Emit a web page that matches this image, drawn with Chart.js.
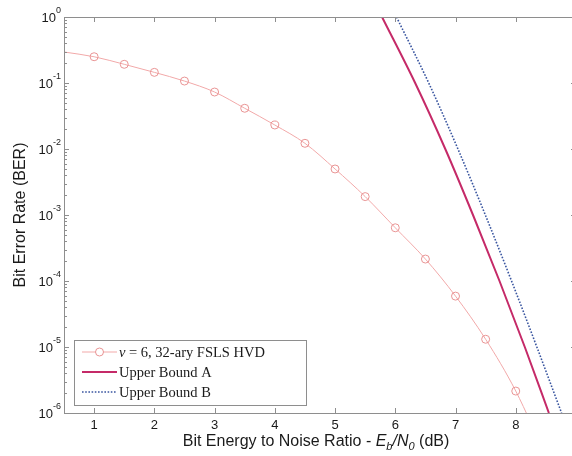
<!DOCTYPE html>
<html>
<head>
<meta charset="utf-8">
<script src="https://cdn.jsdelivr.net/npm/chart.js@4/dist/chart.umd.min.js"></script>
<style>
  html, body { margin: 0; padding: 0; background: #fff; overflow: hidden; }
  #wrap { width: 580px; height: 456px; }
</style>
</head>
<body>
<div id="wrap"><canvas id="c" width="580" height="456"></canvas></div>
<script>
// Eb/N0 (dB) and bit error rate of the simulated v = 6, 32-ary FSLS HVD receiver
const hvdEbN0 = [0.5, 1, 1.5, 2, 2.5, 3, 3.5, 4, 4.5, 5, 5.5, 6, 6.5, 7, 7.5, 8, 8.5];
const hvdBer  = [0.295, 0.25, 0.192, 0.145, 0.107, 0.073, 0.0414, 0.0231, 0.0122,
                 0.00498, 0.0019, 6.4e-4, 2.15e-4, 5.9e-5, 1.31e-5, 2.15e-6, 2.2e-7];

// Analytical upper bounds, one point per decade of BER
const boundAEbN0 = [5.78, 6.33, 6.83, 7.29, 7.73, 8.15, 8.55];
const boundABer  = [1, 1e-1, 1e-2, 1e-3, 1e-4, 1e-5, 1e-6];
const boundBEbN0 = [6.02, 6.555, 7.04, 7.495, 7.93, 8.35, 8.76];
const boundBBer  = [1, 1e-1, 1e-2, 1e-3, 1e-4, 1e-5, 1e-6];

// Axis ticks
const xTicks = [1, 2, 3, 4, 5, 6, 7, 8, 9];
const yExponents = [0, -1, -2, -3, -4, -5, -6];

const legendLabels = ['= 6, 32-ary FSLS HVD', 'Upper Bound A', 'Upper Bound B'];

const COL_HVD = '#f2a9a9';
const COL_HVD_MARK = '#e99494';
const COL_A = '#c52a68';
const COL_B = '#3a56a0';
const COL_AXIS = '#8e8e8e';
const COL_TEXT = '#1a1a1a';

const toPts = (xs, ys) => xs.map((x, i) => ({ x: x, y: ys[i] }));

const hvdRadius = hvdEbN0.map((x) => (x < 1 || x > 8 ? 0 : 4));

function runs(ctx, parts, x, y) {
  // draw a sequence of styled text runs starting at x
  let cx = x;
  for (const p of parts) {
    ctx.font = p.font;
    ctx.fillText(p.t, cx, y + (p.dy || 0));
    cx += ctx.measureText(p.t).width;
  }
}
function runsWidth(ctx, parts) {
  let w = 0;
  for (const p of parts) { ctx.font = p.font; w += ctx.measureText(p.t).width; }
  return w;
}

const framePlugin = {
  id: 'frame',
  afterDatasetsDraw(chart) {
    const ctx = chart.ctx;
    const a = chart.chartArea;
    const xs = chart.scales.x;
    const ys = chart.scales.y;
    ctx.save();

    // box
    ctx.strokeStyle = COL_AXIS;
    ctx.lineWidth = 1;
    ctx.strokeRect(Math.round(a.left) + 0.5, Math.round(a.top) + 0.5,
                   Math.round(a.right - a.left), Math.round(a.bottom - a.top));

    // x ticks (inward, bottom and top)
    ctx.beginPath();
    for (const v of xTicks) {
      const px = Math.round(xs.getPixelForValue(v)) + 0.5;
      ctx.moveTo(px, a.bottom); ctx.lineTo(px, a.bottom - 5);
      ctx.moveTo(px, a.top); ctx.lineTo(px, a.top + 5);
    }
    // y ticks, major and minor (inward, left and right)
    for (const e of yExponents) {
      const py = Math.round(ys.getPixelForValue(Math.pow(10, e))) + 0.5;
      ctx.moveTo(a.left, py); ctx.lineTo(a.left + 5, py);
      ctx.moveTo(a.right, py); ctx.lineTo(a.right - 5, py);
      if (e > -6) {
        for (let m = 2; m <= 9; m++) {
          const pm = Math.round(ys.getPixelForValue(m * Math.pow(10, e - 1))) + 0.5;
          ctx.moveTo(a.left, pm); ctx.lineTo(a.left + 3, pm);
          ctx.moveTo(a.right, pm); ctx.lineTo(a.right - 3, pm);
        }
      }
    }
    ctx.stroke();

    // x tick labels
    ctx.fillStyle = COL_TEXT;
    ctx.font = '13px "Liberation Sans", Arial, sans-serif';
    ctx.textAlign = 'center';
    ctx.textBaseline = 'middle';
    for (const v of xTicks) {
      const px = xs.getPixelForValue(v);
      if (px < a.right - 2) ctx.fillText(String(v), px, 425);
    }

    // y tick labels 10^e
    ctx.textAlign = 'right';
    for (const e of yExponents) {
      const py = ys.getPixelForValue(Math.pow(10, e));
      ctx.font = '9px "Liberation Sans", Arial, sans-serif';
      const ex = String(e);
      const ew = ctx.measureText(ex).width;
      ctx.fillText(ex, 61, py - 6);
      ctx.font = '13px "Liberation Sans", Arial, sans-serif';
      ctx.fillText('10', 61 - ew, py + 1);
    }

    // y axis title
    ctx.save();
    ctx.translate(21, (a.top + a.bottom) / 2);
    ctx.rotate(-Math.PI / 2);
    ctx.textAlign = 'center';
    ctx.font = '16px "Liberation Sans", Arial, sans-serif';
    ctx.fillText('Bit Error Rate (BER)', 0, 0);
    ctx.restore();

    // x axis title with subscripts
    const base = '16px "Liberation Sans", Arial, sans-serif';
    const ital = 'italic 16px "Liberation Sans", Arial, sans-serif';
    const sub = 'italic 11px "Liberation Sans", Arial, sans-serif';
    const title = [
      { t: 'Bit Energy to Noise Ratio - ', font: base },
      { t: 'E', font: ital },
      { t: 'b', font: sub, dy: 5 },
      { t: '/N', font: ital },
      { t: '0', font: sub, dy: 5 },
      { t: ' (dB)', font: base }
    ];
    ctx.textAlign = 'left';
    const tw = runsWidth(ctx, title);
    runs(ctx, title, 316 - tw / 2, 442);

    // legend
    const lx = 74.5, ly = 340.5, lw = 232, lh = 65;
    ctx.fillStyle = '#fff';
    ctx.fillRect(lx, ly, lw, lh);
    ctx.strokeStyle = COL_AXIS;
    ctx.lineWidth = 1;
    ctx.strokeRect(lx, ly, lw, lh);
    const rows = [352, 372, 392];
    const dsets = chart.data.datasets;
    rows.forEach((ry, i) => {
      const d = dsets[i];
      ctx.strokeStyle = d.borderColor;
      ctx.lineWidth = d.borderWidth;
      ctx.setLineDash(d.borderDash || []);
      ctx.beginPath();
      ctx.moveTo(82, ry); ctx.lineTo(117, ry);
      ctx.stroke();
      ctx.setLineDash([]);
      if (i === 0) {
        ctx.strokeStyle = COL_HVD_MARK;
        ctx.lineWidth = 1;
        ctx.fillStyle = '#fff';
        ctx.beginPath();
        ctx.arc(99.5, ry, 4, 0, Math.PI * 2);
        ctx.fill();
        ctx.stroke();
      }
      ctx.fillStyle = COL_TEXT;
      ctx.textBaseline = 'middle';
      const serif = '14.5px "Liberation Serif", "Times New Roman", serif';
      if (i === 0) {
        runs(ctx, [
          { t: '\u03bd ', font: 'italic ' + serif },
          { t: legendLabels[0], font: serif }
        ], 119, ry + 1);
      } else {
        ctx.font = serif;
        ctx.fillText(legendLabels[i], 119, ry + 1);
      }
    });

    ctx.restore();
  }
};

new Chart(document.getElementById('c'), {
  type: 'line',
  data: {
    datasets: [
      {
        label: 'v = 6, 32-ary FSLS HVD',
        data: toPts(hvdEbN0, hvdBer),
        borderColor: COL_HVD,
        borderWidth: 1,
        pointRadius: hvdRadius,
        pointStyle: 'circle',
        pointBorderColor: COL_HVD_MARK,
        pointBackgroundColor: 'rgba(255,255,255,0)',
        pointBorderWidth: 1,
        cubicInterpolationMode: 'monotone'
      },
      {
        label: 'Upper Bound A',
        data: toPts(boundAEbN0, boundABer),
        borderColor: COL_A,
        borderWidth: 2,
        pointRadius: 0,
        cubicInterpolationMode: 'monotone'
      },
      {
        label: 'Upper Bound B',
        data: toPts(boundBEbN0, boundBBer),
        borderColor: COL_B,
        borderWidth: 1.6,
        borderDash: [1.6, 1.6],
        pointRadius: 0,
        cubicInterpolationMode: 'monotone'
      }
    ]
  },
  options: {
    responsive: false,
    devicePixelRatio: 1,
    animation: false,
    events: [],
    layout: { padding: { top: 17, right: 4, left: 0, bottom: 0 } },
    plugins: { legend: { display: false }, tooltip: { enabled: false } },
    scales: {
      x: {
        type: 'linear',
        min: 0.5,
        max: 9,
        grid: { display: false },
        border: { display: false },
        ticks: { display: false },
        afterFit: (s) => { s.height = 43; }
      },
      y: {
        type: 'logarithmic',
        min: 1e-6,
        max: 1,
        grid: { display: false },
        border: { display: false },
        ticks: { display: false },
        afterFit: (s) => { s.width = 64; }
      }
    }
  },
  plugins: [framePlugin]
});
</script>
</body>
</html>
